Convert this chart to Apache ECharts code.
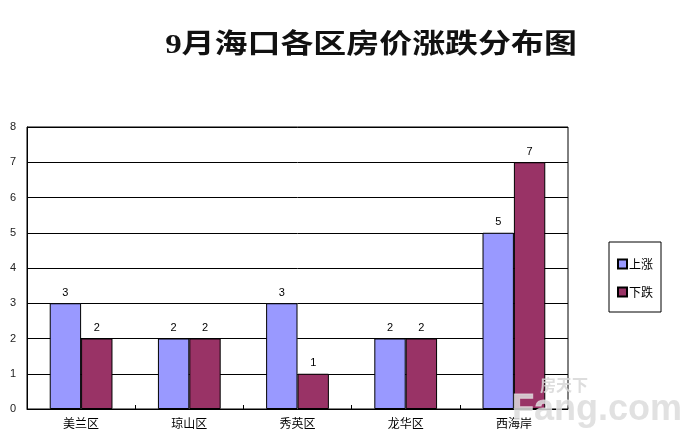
<!DOCTYPE html>
<html>
<head>
<meta charset="utf-8">
<script src="https://cdn.jsdelivr.net/npm/echarts@6/dist/echarts.min.js"></script>
<style>html,body{margin:0;padding:0;background:#fff;}#c{width:694px;height:441px;}</style>
</head>
<body>
<div id="c"></div>
<script>
var titleText = '9月海口各区房价涨跌分布图';
var categories = ['美兰区', '琼山区', '秀英区', '龙华区', '西海岸'];
var riseName = '上涨';
var fallName = '下跌';
var riseValues = [3, 2, 3, 2, 5];
var fallValues = [2, 2, 1, 2, 7];
var yTicks = [0, 1, 2, 3, 4, 5, 6, 7, 8];

var chart = echarts.init(document.getElementById('c'), null, {renderer: 'canvas'});
var labelFont = {fontFamily: 'Liberation Sans, Noto Sans CJK SC', fontSize: 11, color: '#000'};
chart.setOption({
  backgroundColor: '#fff',
  animation: false,
  grid: {left: 27, right: 126, top: 127, bottom: 32, containLabel: false,
    show: true, borderColor: '#000', borderWidth: 1},
  legend: {
    orient: 'vertical',
    left: 609, top: 242,
    width: 55,
    padding: [16, 8, 14, 8],
    borderColor: '#000', borderWidth: 1,
    itemWidth: 9, itemHeight: 9, itemGap: 16,
    icon: 'rect',
    textStyle: {fontFamily: 'Noto Sans CJK SC', fontSize: 12, color: '#000', padding: [0, 0, 0, -3]},
    data: [riseName, fallName]
  },
  xAxis: {
    type: 'category',
    data: categories,
    axisLine: {lineStyle: {color: '#000', width: 1}},
    axisTick: {show: true, inside: true, length: 4, lineStyle: {color: '#000'}},
    axisLabel: {fontFamily: 'Noto Sans CJK SC', fontSize: 12, color: '#000', margin: 8}
  },
  yAxis: {
    type: 'value',
    min: yTicks[0], max: yTicks[yTicks.length - 1], interval: 1,
    axisLine: {show: true, lineStyle: {color: '#000', width: 1}},
    axisTick: {show: false},
    axisLabel: {fontFamily: 'Liberation Sans', fontSize: 11, color: '#222', margin: 11},
    splitLine: {show: true, lineStyle: {color: '#000', width: 1}}
  },
  series: [
    {
      name: riseName, type: 'bar', data: riseValues,
      barGap: '0%', barCategoryGap: '42%',
      itemStyle: {color: '#9999FF', borderColor: '#000', borderWidth: 1},
      label: Object.assign({show: true, position: 'top', distance: 5}, labelFont)
    },
    {
      name: fallName, type: 'bar', data: fallValues,
      barGap: '0%', barCategoryGap: '42%',
      itemStyle: {color: '#993366', borderColor: '#000', borderWidth: 1},
      label: Object.assign({show: true, position: 'top', distance: 5}, labelFont)
    }
  ],
  graphic: [
    {
      type: 'text', x: 371, y: 46, scaleX: 1.22, scaleY: 1,
      style: {text: titleText, textAlign: 'center', textVerticalAlign: 'middle',
        font: 'bold 27px "Liberation Serif", "Noto Sans CJK SC"', fill: '#111'}
    },
    {
      type: 'text', x: 540, y: 385, z: 100,
      style: {text: '房天下', textVerticalAlign: 'middle',
        font: 'bold 16px "Noto Sans CJK SC"', fill: 'rgba(215,215,215,0.85)'}
    },
    {
      type: 'text', x: 512, y: 410, z: 100,
      style: {text: 'Fang.com', textVerticalAlign: 'middle',
        font: 'bold 36px "Liberation Sans"', fill: 'rgba(220,220,220,0.85)',
        stroke: 'rgba(255,255,255,0.6)', lineWidth: 1}
    }
  ]
});
</script>
</body>
</html>
